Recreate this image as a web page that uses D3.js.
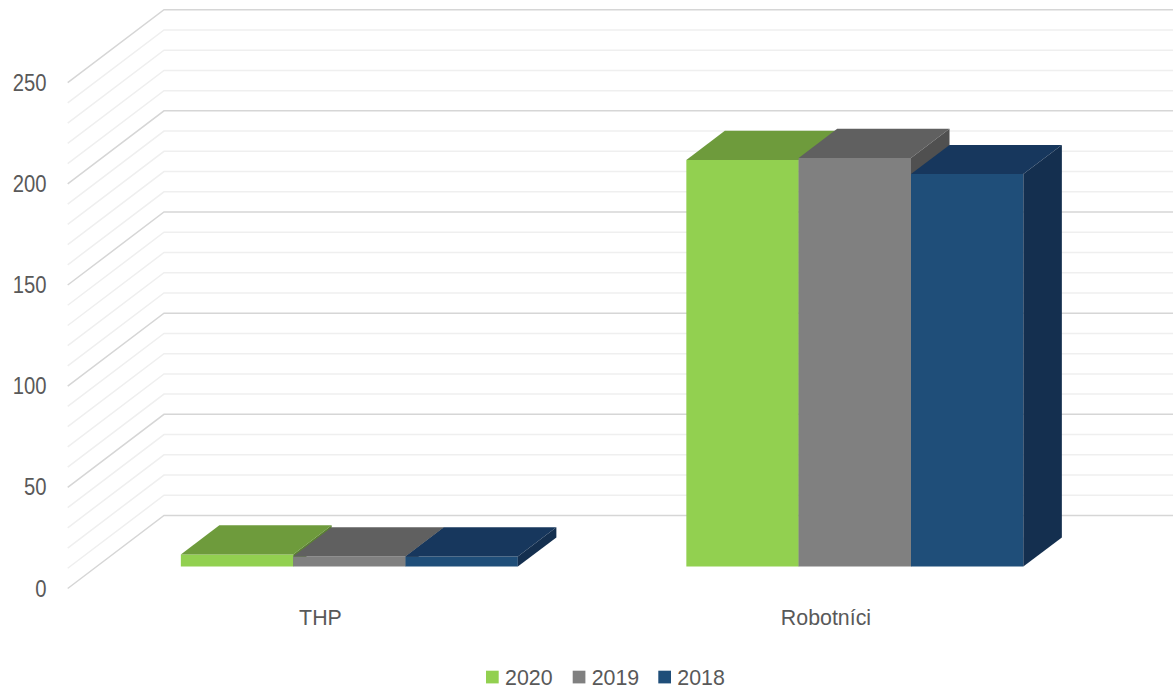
<!DOCTYPE html>
<html>
<head>
<meta charset="utf-8">
<script src="https://cdn.jsdelivr.net/npm/d3@7"></script>
<style>
  body { margin: 0; background: #fff; }
  text { font-family: "Liberation Sans Narrow", "Liberation Sans", sans-serif; fill: #595959; font-size: 23px; }
</style>
</head>
<body>
<svg id="chart"></svg>
<script>
var width = 1173;
var height = 691;

// data
var categories = ["THP", "Robotníci"];
var seriesNames = ["2020", "2019", "2018"];
var values2020 = [6, 201];
var values2019 = [5, 202];
var values2018 = [5, 194];
var yTicks = [0, 50, 100, 150, 200, 250];

var seriesValues = [values2020, values2019, values2018];
var frontColors = ["#92d050", "#808080", "#1f4e79"];
var topColors = ["#6e9b3c", "#606060", "#17375d"];
var sideColors = ["#5b8231", "#505050", "#142f4f"];

// oblique 3d: z=0 front edge of floor, z=1 back wall
var depthX = 96.3, depthY = -73;
var wallLeft = 67.7;
var squeezeY = 0.88, squeeze = 0.93; // narrow the font a bit

var yScale = d3.scaleLinear().domain([0, 250]).range([588.5, 82.7]);
var xScale = d3.scaleBand().domain(categories).range([wallLeft, wallLeft + 1011]);
var sScale = d3.scaleBand().domain(seriesNames).range([0, xScale.bandwidth()]).paddingOuter(0.75);
var zFront = 0.3, zBack = 0.7;

function proj(x, v, z) {
    return [x + z * depthX, yScale(v) + z * depthY];
}

var svg = d3.select("#chart").attr("width", width).attr("height", height);

// side wall + back wall gridlines
var gridValues = d3.range(0, 251, 10);
svg.append("g")
    .selectAll("path")
    .data(gridValues)
    .enter()
    .append("path")
    .attr("d", function (v) {
        var a = proj(wallLeft, v, 0), b = proj(wallLeft, v, 1);
        return "M" + a + "L" + b + "L" + (width + 10) + "," + b[1];
    })
    .attr("fill", "none")
    .attr("stroke", v => v % 50 == 0 ? "#d6d6d6" : "#efefef")
    .attr("stroke-width", 1.5);

// bars
var bars = [];
categories.forEach(function (c, ci) {
    seriesNames.forEach(function (s, si) {
        bars.push({cat: c, series: s, si: si, value: seriesValues[si][ci]});
    });
});

function poly(pts) { return pts.map(p => p.join(",")).join(" "); }

svg.append("g")
    .selectAll("g")
    .data(bars)
    .enter()
    .append("g")
    .each(function (d) {
        var g = d3.select(this);
        var x0 = xScale(d.cat) + sScale(d.series);
        var x1 = x0 + sScale.bandwidth();
        var front = [proj(x0, 0, zFront), proj(x1, 0, zFront), proj(x1, d.value, zFront), proj(x0, d.value, zFront)];
        var top = [proj(x0, d.value, zFront), proj(x1, d.value, zFront), proj(x1, d.value, zBack), proj(x0, d.value, zBack)];
        var side = [proj(x1, 0, zFront), proj(x1, 0, zBack), proj(x1, d.value, zBack), proj(x1, d.value, zFront)];
        g.append("polygon").attr("points", poly(front)).attr("fill", frontColors[d.si]);
        g.append("polygon").attr("points", poly(top)).attr("fill", topColors[d.si]);
        g.append("polygon").attr("points", poly(side)).attr("fill", sideColors[d.si]);
    });

// y labels
svg.append("g")
    .selectAll("text")
    .data(yTicks)
    .enter()
    .append("text")
    .attr("transform", d => `translate(46.5, ${yScale(d)}) scale(${squeezeY}, 1)`)
    .attr("dy", "0.35em")
    .attr("text-anchor", "end")
    .text(d => d);

// category labels
svg.append("g")
    .selectAll("text")
    .data(categories)
    .enter()
    .append("text")
    .attr("transform", d => `translate(${xScale(d) + xScale.bandwidth() / 2}, 617) scale(${squeeze}, 1)`)
    .attr("dy", "0.35em")
    .attr("text-anchor", "middle")
    .text(d => d);

// legend
var legendX = [486, 572.7, 658.3];
var legend = svg.append("g")
    .selectAll("g")
    .data(seriesNames)
    .enter()
    .append("g")
    .attr("transform", (d, i) => `translate(${legendX[i]}, 670.7)`);
legend.append("rect")
    .attr("width", 12.7)
    .attr("height", 12.7)
    .attr("fill", (d, i) => frontColors[i]);
legend.append("text")
    .attr("transform", `translate(19, 6.3) scale(${squeeze}, 1)`)
    .attr("dy", "0.35em")
    .text(d => d);
</script>
</body>
</html>
